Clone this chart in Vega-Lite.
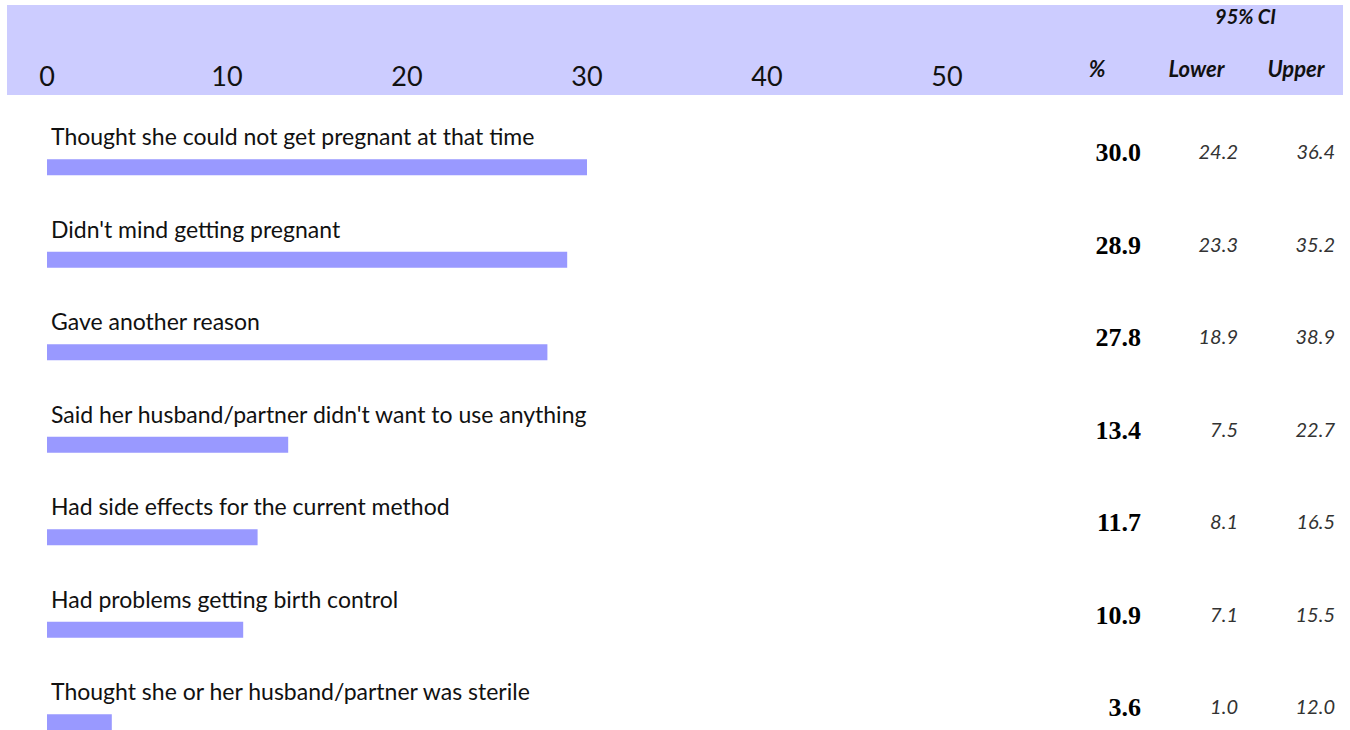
{
  "$schema": "https://vega.github.io/schema/vega-lite/v6.json",
  "padding": {"left": 7, "top": 5, "right": 7, "bottom": 0},
  "background": "white",
  "config": {"view": {"stroke": null}, "concat": {"spacing": 26}},
  "datasets": {
    "ticks": [{"v": 0}, {"v": 10}, {"v": 20}, {"v": 30}, {"v": 40}, {"v": 50}],
    "heads": [{"col": "%"}, {"col": "Lower"}, {"col": "Upper"}],
    "ci": [{"t": "95% CI"}],
    "rows": [
      {"reason": "Thought she could not get pregnant at that time", "pct": 30.0, "lower": 24.2, "upper": 36.4},
      {"reason": "Didn't mind getting pregnant", "pct": 28.9, "lower": 23.3, "upper": 35.2},
      {"reason": "Gave another reason", "pct": 27.8, "lower": 18.9, "upper": 38.9},
      {"reason": "Said her husband/partner didn't want to use anything", "pct": 13.4, "lower": 7.5, "upper": 22.7},
      {"reason": "Had side effects for the current method", "pct": 11.7, "lower": 8.1, "upper": 16.5},
      {"reason": "Had problems getting birth control", "pct": 10.9, "lower": 7.1, "upper": 15.5},
      {"reason": "Thought she or her husband/partner was sterile", "pct": 3.6, "lower": 1.0, "upper": 12.0}
    ]
  },
  "vconcat": [
    {
      "width": 1336,
      "height": 90,
      "view": {"fill": "#ccccff", "stroke": null},
      "layer": [
        {
          "data": {"name": "ticks"},
          "mark": {"type": "text", "font": "Lato", "fontSize": 27, "baseline": "alphabetic", "align": "center", "dy": 36, "color": "#111111"},
          "encoding": {
            "x": {"field": "v", "type": "quantitative", "scale": {"domain": [0, 60], "range": [40, 1120], "nice": false, "zero": false}, "axis": null},
            "text": {"field": "v", "type": "quantitative", "format": "d"}
          }
        },
        {
          "data": {"name": "heads"},
          "mark": {"type": "text", "font": "Lato", "fontSize": 22, "fontStyle": "italic", "fontWeight": "bold", "baseline": "alphabetic", "align": "center", "dy": 27, "color": "#111111"},
          "encoding": {
            "x": {"field": "col", "type": "nominal", "scale": {"type": "point", "domain": ["%", "Lower", "Upper"], "range": [1090, 1289], "padding": 0}, "axis": null},
            "text": {"field": "col", "type": "nominal"}
          }
        },
        {
          "data": {"name": "ci"},
          "mark": {"type": "text", "font": "Lato", "fontSize": 20, "fontStyle": "italic", "fontWeight": "bold", "baseline": "alphabetic", "align": "center", "dy": -26, "dx": 49, "color": "#111111"},
          "encoding": {
            "x": {"datum": "Lower", "type": "nominal", "scale": {"type": "point", "domain": ["%", "Lower", "Upper"], "range": [1090, 1289], "padding": 0}, "axis": null},
            "text": {"field": "t", "type": "nominal"}
          }
        }
      ],
      "resolve": {"scale": {"x": "independent"}}
    },
    {
      "width": 1336,
      "height": 647.5,
      "data": {"name": "rows"},
      "encoding": {
        "y": {"field": "reason", "type": "nominal", "sort": null, "scale": {"paddingInner": 0, "paddingOuter": 0}, "axis": null}
      },
      "layer": [
        {
          "mark": {"type": "bar", "color": "#9999ff", "size": 16},
          "encoding": {
            "x": {"field": "pct", "type": "quantitative", "scale": {"domain": [0, 60], "range": [40, 1120], "nice": false, "zero": false}, "axis": null}
          }
        },
        {
          "mark": {"type": "text", "align": "left", "baseline": "alphabetic", "dx": 4, "dy": -22, "font": "Lato", "fontSize": 23, "color": "#111111"},
          "encoding": {
            "x": {"datum": 0, "type": "quantitative", "scale": {"domain": [0, 60], "range": [40, 1120], "nice": false, "zero": false}, "axis": null},
            "text": {"field": "reason", "type": "nominal"}
          }
        },
        {
          "mark": {"type": "text", "align": "right", "baseline": "middle", "dy": -14, "font": "Liberation Serif", "fontWeight": "bold", "fontSize": 26, "color": "#000000"},
          "encoding": {
            "x": {"datum": "%", "type": "nominal", "scale": {"type": "point", "domain": ["%", "Lower", "Upper"], "range": [1134, 1328], "padding": 0}, "axis": null},
            "text": {"field": "pct", "type": "quantitative", "format": ".1f"}
          }
        },
        {
          "mark": {"type": "text", "align": "right", "baseline": "middle", "dy": -14, "font": "Lato", "fontStyle": "italic", "fontSize": 20, "color": "#333333"},
          "encoding": {
            "x": {"datum": "Lower", "type": "nominal", "scale": {"type": "point", "domain": ["%", "Lower", "Upper"], "range": [1134, 1328], "padding": 0}, "axis": null},
            "text": {"field": "lower", "type": "quantitative", "format": ".1f"}
          }
        },
        {
          "mark": {"type": "text", "align": "right", "baseline": "middle", "dy": -14, "font": "Lato", "fontStyle": "italic", "fontSize": 20, "color": "#333333"},
          "encoding": {
            "x": {"datum": "Upper", "type": "nominal", "scale": {"type": "point", "domain": ["%", "Lower", "Upper"], "range": [1134, 1328], "padding": 0}, "axis": null},
            "text": {"field": "upper", "type": "quantitative", "format": ".1f"}
          }
        }
      ],
      "resolve": {"scale": {"x": "independent"}}
    }
  ]
}
